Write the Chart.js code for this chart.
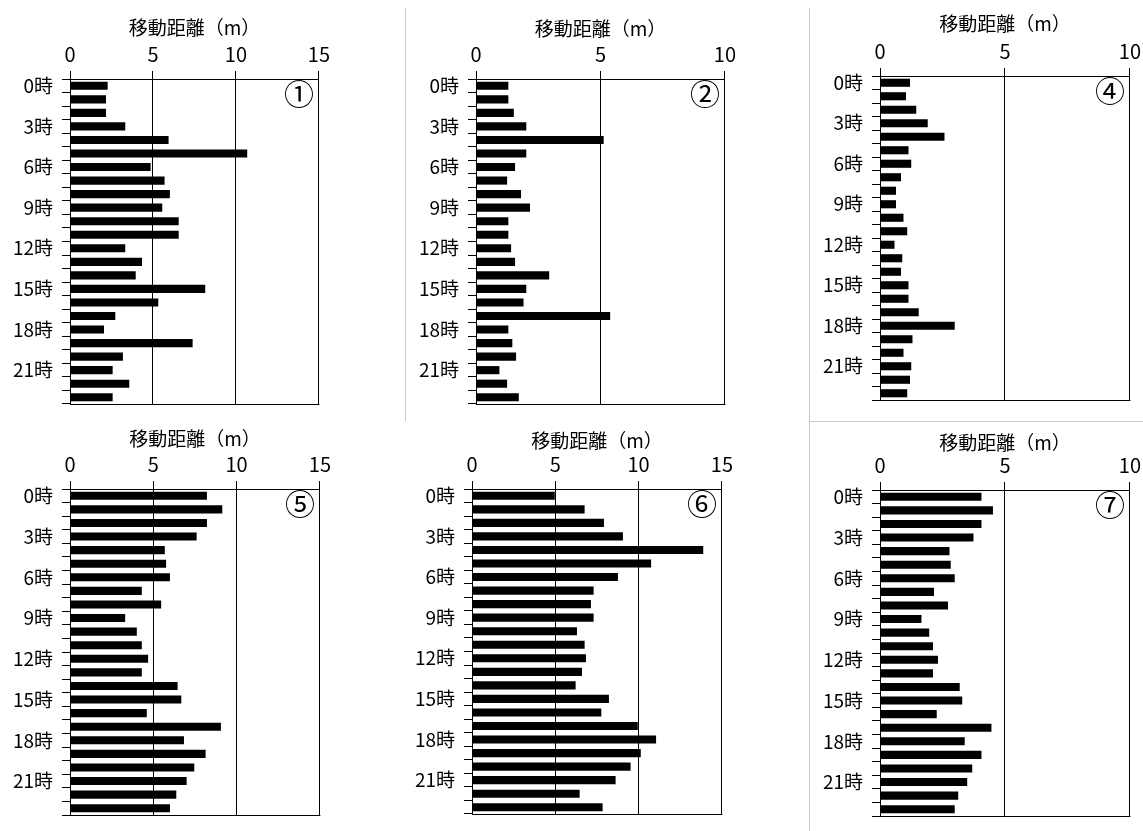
<!DOCTYPE html>
<html>
<head>
<meta charset="utf-8">
<script src="https://cdn.jsdelivr.net/npm/chart.js@4/dist/chart.umd.min.js"></script>
<style>
  html, body { margin: 0; padding: 0; background: #fff; }
  body { width: 1143px; height: 831px; position: relative; overflow: hidden; }
  canvas { position: absolute; }
  .sep { position: absolute; background: #c8c8c8; }
</style>
</head>
<body>
<div class="sep" style="left:405px;top:8px;width:1px;height:413px"></div>
<div class="sep" style="left:809px;top:8px;width:1px;height:823px"></div>
<div class="sep" style="left:809px;top:421px;width:334px;height:1px"></div>
<script>
// Hour categories (one bar per hour)
const hours = ['0時','1時','2時','3時','4時','5時','6時','7時','8時','9時','10時','11時',
               '12時','13時','14時','15時','16時','17時','18時','19時','20時','21時','22時','23時'];
// Hours whose label is printed on the axis
const shownHours = ['0時','3時','6時','9時','12時','15時','18時','21時'];

// Hourly travel distance (m) for each observation point
const dist1 = [2.27, 2.17, 2.17, 3.33, 5.94, 10.68, 4.86, 5.70, 6.02, 5.56, 6.55, 6.55,
               3.33, 4.34, 3.96, 8.15, 5.32, 2.73, 2.05, 7.39, 3.19, 2.57, 3.57, 2.57];
const dist2 = [1.30, 1.30, 1.52, 2.02, 5.13, 2.02, 1.57, 1.25, 1.81, 2.17, 1.30, 1.30,
               1.41, 1.57, 2.94, 2.02, 1.91, 5.39, 1.30, 1.46, 1.61, 0.94, 1.25, 1.72];
const dist4 = [1.20, 1.04, 1.45, 1.91, 2.58, 1.14, 1.25, 0.84, 0.64, 0.64, 0.94, 1.09,
               0.58, 0.89, 0.84, 1.14, 1.14, 1.55, 2.99, 1.30, 0.94, 1.25, 1.20, 1.09];
const dist5 = [8.22, 9.14, 8.22, 7.60, 5.69, 5.77, 6.00, 4.31, 5.47, 3.31, 4.01, 4.31,
               4.69, 4.31, 6.46, 6.68, 4.61, 9.06, 6.84, 8.14, 7.46, 7.00, 6.38, 6.00];
const dist6 = [4.97, 6.76, 7.92, 9.06, 13.88, 10.75, 8.76, 7.30, 7.14, 7.30, 6.30, 6.76,
               6.84, 6.60, 6.22, 8.22, 7.76, 9.95, 11.05, 10.13, 9.52, 8.62, 6.46, 7.84];
const dist7 = [4.06, 4.52, 4.06, 3.74, 2.78, 2.83, 2.99, 2.16, 2.72, 1.66, 1.97, 2.12,
               2.32, 2.12, 3.19, 3.29, 2.27, 4.46, 3.39, 4.06, 3.69, 3.49, 3.13, 2.99];

// Panel marks and axis maxima
const marks = ['①', '②', '④', '⑤', '⑥', '⑦'];
const axisMax = [15, 10, 10, 15, 15, 10];
const axisTitle = '移動距離（m）';

// Plot-area placement of each panel on the page (px)
const layoutBoxes = [
  { L: 70,  R: 320,  T: 79,  B: 404, titleC: 27.5 },
  { L: 476, R: 726,  T: 79,  B: 404, titleC: 29 },
  { L: 880, R: 1131, T: 76,  B: 400, titleC: 24 },
  { L: 70,  R: 321,  T: 489, B: 815, titleC: 439 },
  { L: 472, R: 723,  T: 489, B: 814, titleC: 440.5 },
  { L: 880, R: 1131, T: 490, B: 816, titleC: 442.5 }
];
const seriesList = [dist1, dist2, dist4, dist5, dist6, dist7];

const AXIS_W = 70, AXIS_H = 79, PAD_R = 15, PAD_B = 6;
const NARROW = '"Liberation Sans Narrow", "Noto Sans CJK JP", sans-serif';
const CJK = '"Noto Sans CJK JP", sans-serif';

// Bottom frame line and the circled panel number
const framePlugin = {
  id: 'panelFrame',
  afterDraw(chart, args, opts) {
    const { ctx, chartArea: a } = chart;
    ctx.save();
    ctx.strokeStyle = '#000';
    ctx.lineWidth = 1;
    ctx.beginPath();
    const yb = Math.round(a.bottom) + 0.5;
    ctx.moveTo(a.left, yb);
    ctx.lineTo(a.right + 0.5, yb);
    ctx.stroke();
    ctx.fillStyle = '#000';
    ctx.font = '30px "DejaVu Serif", "Noto Sans CJK JP", serif';
    ctx.textAlign = 'center';
    ctx.textBaseline = 'middle';
    ctx.fillText(opts.text, a.right - 20, a.top + 18);
    ctx.restore();
  }
};

layoutBoxes.forEach((p, k) => {
  const cv = document.createElement('canvas');
  const left = p.L - AXIS_W, top = p.T - AXIS_H;
  const w = p.R - left + PAD_R, h = p.B - top + PAD_B;
  cv.width = w; cv.height = h;
  cv.style.left = left + 'px'; cv.style.top = top + 'px';
  cv.style.width = w + 'px'; cv.style.height = h + 'px';
  document.body.appendChild(cv);

  new Chart(cv, {
    type: 'bar',
    data: {
      labels: hours,
      datasets: [{
        data: seriesList[k],
        backgroundColor: '#000',
        borderWidth: 0,
        barPercentage: 0.6,
        categoryPercentage: 1
      }]
    },
    options: {
      indexAxis: 'y',
      responsive: false,
      animation: false,
      devicePixelRatio: 1,
      layout: { padding: { top: 0, left: 0, right: PAD_R, bottom: PAD_B } },
      plugins: {
        legend: { display: false },
        tooltip: { enabled: false },
        panelFrame: { text: marks[k] }
      },
      scales: {
        x: {
          position: 'top',
          min: 0,
          max: axisMax[k],
          ticks: { stepSize: 5, color: '#000', font: { family: NARROW, size: 20 }, padding: 5, maxRotation: 0 },
          grid: { color: '#000', lineWidth: 1, tickLength: 8 },
          border: { display: true, color: '#000', width: 1 },
          title: {
            display: true, text: axisTitle, color: '#000',
            font: { family: CJK, size: 19 },
            padding: { top: p.titleC - top - 11.4, bottom: 0 }
          },
          afterFit(s) { s.height = AXIS_H; }
        },
        y: {
          offset: true,
          grid: { offset: true, drawOnChartArea: false, color: '#000', tickLength: 8 },
          border: { display: true, color: '#000', width: 1 },
          ticks: {
            autoSkip: false, color: '#000', padding: 9,
            font: { family: NARROW, size: 19 },
            callback: (v, i) => shownHours.includes(hours[i]) ? hours[i] : ''
          },
          afterFit(s) {
            s.width = AXIS_W;
            s.paddingTop = 0;
            s.paddingBottom = 0;
          }
        }
      }
    },
    plugins: [framePlugin]
  });
});
</script>
</body>
</html>
